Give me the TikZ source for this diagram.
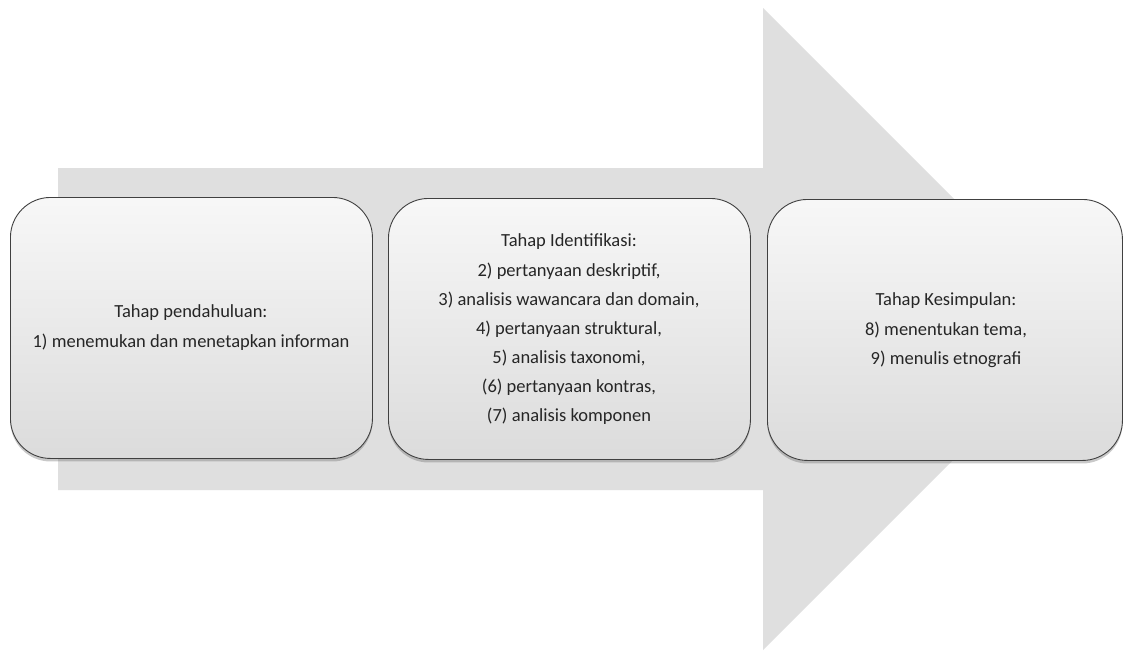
\documentclass[tikz,border=0pt]{standalone}
\usepackage{fontspec}
\setmainfont{Carlito}
\usetikzlibrary{shadows}
\begin{document}
\begin{tikzpicture}[x=1pt,y=-1pt,
  stagebox/.style={draw=black!75, line width=0.9pt, rounded corners=40pt,
    top color=white!97!black, bottom color=white!86!black,
    drop shadow={shadow xshift=0pt, shadow yshift=-3pt, opacity=0.35, fill=black!60},
    minimum width=362pt, minimum height=261pt, anchor=north west, inner sep=0pt},
  txt/.style={font=\fontsize{18.5}{22}\selectfont, text=black!85, anchor=center, inner sep=0pt}]
\useasboundingbox (0,0) rectangle (1124,653);
\fill[white] (0,0) rectangle (1124,653);
% big arrow
\fill[gray!25] (58,168) -- (763,168) -- (763,8) -- (1084,329) -- (763,650) -- (763,490) -- (58,490) -- cycle;
% boxes
\node[stagebox] (b1) at (10,197) {};
\node[stagebox] (b2) at (388,198) {};
\node[stagebox, minimum width=355pt] (b3) at (767,199) {};
% texts
\node[txt] (t1a) at (191,313) {Tahap pendahuluan:};
\node[txt] (t1b) at (191,342) {1) menemukan dan menetapkan informan};
\node[txt] (t2a) at (569,242) {Tahap Identifikasi:};
\node[txt] (t2b) at (569,271) {2) pertanyaan deskriptif,};
\node[txt] (t2c) at (569,300) {3) analisis wawancara dan domain,};
\node[txt] (t2d) at (569,329) {4) pertanyaan struktural,};
\node[txt] (t2e) at (569,358) {5) analisis taxonomi,};
\node[txt] (t2f) at (569,387) {(6) pertanyaan kontras,};
\node[txt] (t2g) at (569,416) {(7) analisis komponen};
\node[txt] (t3a) at (946,301) {Tahap Kesimpulan:};
\node[txt] (t3b) at (946,330) {8) menentukan tema,};
\node[txt] (t3c) at (946,359) {9) menulis etnografi};
\end{tikzpicture}
\end{document}
